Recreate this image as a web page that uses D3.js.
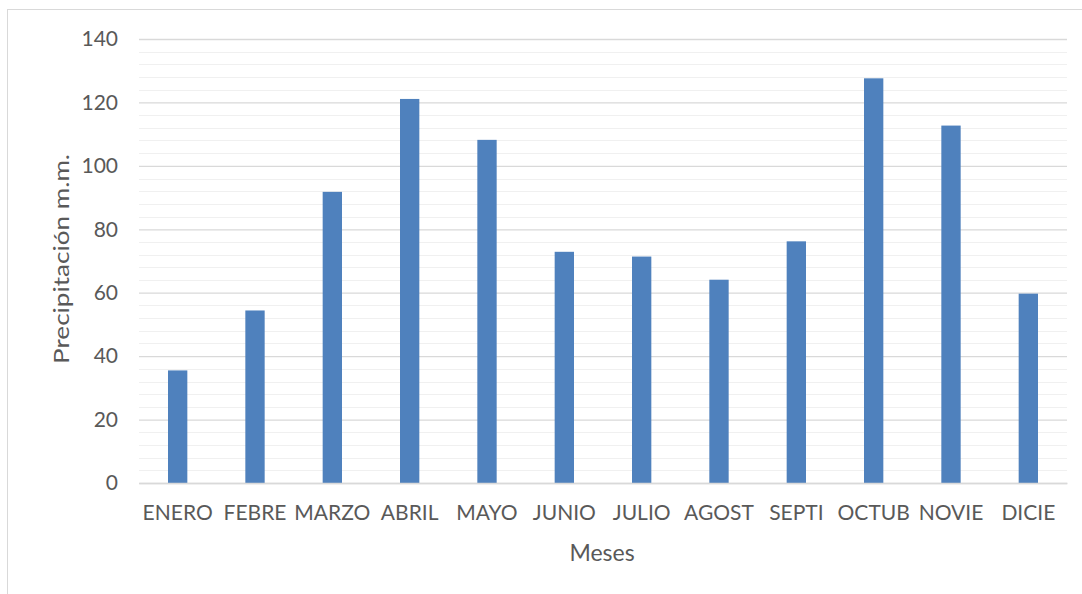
<!DOCTYPE html>
<html>
<head>
<meta charset="utf-8">
<script src="https://cdn.jsdelivr.net/npm/d3@7"></script>
<style>
  html, body { margin: 0; padding: 0; background: #fff; }
  svg { display: block; }
  text { font-family: Lato, "Open Sans", sans-serif; fill: #595959; }
</style>
</head>
<body>
<svg id="chart" width="1082" height="594"></svg>
<script>
// Monthly precipitation (mm)
const months = ["ENERO", "FEBRE", "MARZO", "ABRIL", "MAYO", "JUNIO", "JULIO", "AGOST", "SEPTI", "OCTUB", "NOVIE", "DICIE"];
const precipitation = [35.5, 54.4, 91.8, 121.1, 108.2, 72.9, 71.4, 64.1, 76.2, 127.6, 112.7, 59.7];
const yTicks = [0, 20, 40, 60, 80, 100, 120, 140];
const yMinorTicks = d3.range(0, 141, 4);

const svg = d3.select("#chart");
const plot = { left: 139, right: 1067, top: 39, bottom: 483 };
const fontStack = "Lato, 'Open Sans', sans-serif";

// chart frame
svg.append("rect")
  .attr("x", 7.5).attr("y", 9.5)
  .attr("width", 1090).attr("height", 600)
  .attr("fill", "none").attr("stroke", "#d9d9d9").attr("stroke-width", 1);

const x = d3.scaleBand().domain(months).range([plot.left, plot.right]).paddingInner(0.75).paddingOuter(0.375);
const y = d3.scaleLinear().domain([0, 140]).range([plot.bottom, plot.top]);

// minor gridlines
svg.append("g").selectAll("line")
  .data(yMinorTicks.filter(v => v % 20 !== 0))
  .join("line")
  .attr("x1", plot.left).attr("x2", plot.right)
  .attr("y1", d => Math.round(y(d)) + 0.5).attr("y2", d => Math.round(y(d)) + 0.5)
  .attr("stroke", "#f0f0f0").attr("stroke-width", 1);

// major gridlines and value axis labels
const yAxis = d3.axisLeft(y).tickValues(yTicks).tickSize(-(plot.right - plot.left)).tickPadding(21)
  .tickFormat(d3.format("d"));
const gy = svg.append("g").attr("transform", `translate(${plot.left},0)`).call(yAxis);
gy.select(".domain").remove();
gy.selectAll(".tick line").attr("stroke", "#d9d9d9").attr("stroke-width", 1.3);
gy.selectAll(".tick text").attr("font-size", 21).style("fill", "#595959")
  .style("font-family", fontStack);

// bars
svg.append("g").selectAll("rect")
  .data(precipitation)
  .join("rect")
  .attr("x", (d, i) => x(months[i]))
  .attr("width", x.bandwidth())
  .attr("y", d => y(d))
  .attr("height", d => y(0) - y(d))
  .attr("fill", "#4f81bd");

// category axis
const xAxis = d3.axisBottom(x).tickSize(0).tickPadding(22);
const gx = svg.append("g").attr("transform", `translate(0,${plot.bottom})`).call(xAxis);
gx.select(".domain").attr("stroke", "#d9d9d9").attr("stroke-width", 1.5);
gx.selectAll(".tick text").attr("font-size", 21).style("fill", "#595959")
  .style("font-family", fontStack);

// axis titles
svg.append("text")
  .attr("x", (plot.left + plot.right) / 2 - 1).attr("y", 561)
  .attr("text-anchor", "middle").attr("font-size", 23)
  .text("Meses");

svg.append("text")
  .attr("transform", `translate(69,${(plot.top + plot.bottom) / 2 - 2}) rotate(-90)`)
  .attr("text-anchor", "middle").attr("font-size", 21)
  .attr("textLength", 210).attr("lengthAdjust", "spacingAndGlyphs")
  .text("Precipitación m.m.");
</script>
</body>
</html>
